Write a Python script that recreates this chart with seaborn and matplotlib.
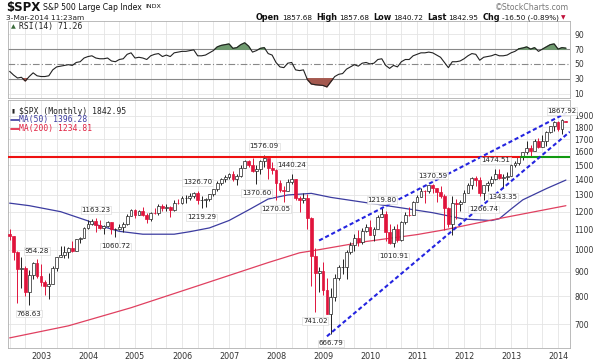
import numpy as np
import pandas as pd
import matplotlib
matplotlib.use("Agg")
import matplotlib.pyplot as plt
import seaborn as sns
from matplotlib.ticker import FixedLocator, NullLocator, FixedFormatter

sns.set_style("white")
plt.rcParams['font.family'] = ['DejaVu Sans']

# monthly bars, May 2002 .. Mar 2014
first_month = "2002-05"
opens = [1076.92, 1067.14, 989.82, 911.62, 916.07, 815.28, 885.76, 936.31,
         879.82, 855.70, 841.15, 848.18, 916.92, 963.59, 974.50, 990.31, 1008.01, 995.97, 1050.71, 1058.20,
         1111.92, 1131.13, 1144.94, 1126.21, 1107.30, 1120.68, 1140.84, 1101.72, 1104.24, 1114.58, 1130.20, 1173.82,
         1211.92, 1181.27, 1203.60, 1180.59, 1156.85, 1191.50, 1191.33, 1234.18, 1220.33, 1228.81, 1207.01, 1249.48,
         1248.29, 1280.08, 1280.66, 1294.87, 1310.61, 1270.09, 1270.20, 1276.66, 1303.82, 1335.85, 1377.94, 1400.63,
         1418.30, 1438.24, 1406.82, 1420.86, 1482.37, 1530.62, 1503.35, 1455.27, 1473.99, 1526.75, 1549.38, 1481.14,
         1468.36, 1378.55, 1330.63, 1322.70, 1385.59, 1400.38, 1280.00, 1267.38, 1282.83, 1166.36, 968.75, 896.24,
         903.25, 825.88, 735.09, 797.87, 872.81, 919.14, 919.32, 987.48, 1020.62, 1057.08, 1036.19, 1095.63,
         1115.10, 1073.87, 1104.49, 1169.43, 1186.69, 1089.41, 1030.71, 1101.60, 1049.33, 1141.20, 1183.26, 1180.55,
         1257.64, 1286.12, 1327.22, 1325.83, 1363.61, 1345.20, 1320.64, 1292.28, 1218.89, 1131.42, 1253.30, 1246.96,
         1257.60, 1312.41, 1365.68, 1408.47, 1397.91, 1310.33, 1362.16, 1379.32, 1406.58, 1440.67, 1412.16, 1416.18,
         1426.19, 1498.11, 1514.68, 1569.19, 1597.57, 1630.74, 1606.28, 1685.73, 1632.97, 1681.55, 1756.54, 1805.81,
         1848.36, 1782.59, 1857.68]
highs = [1106.59, 1070.00, 993.56, 965.00, 924.02, 907.44, 941.82, 954.28,
         935.05, 864.64, 895.90, 924.24, 965.38, 1015.33, 1015.41, 1011.01, 1040.29, 1053.79, 1063.65, 1112.56,
         1155.38, 1158.98, 1163.23, 1150.57, 1127.74, 1146.34, 1140.84, 1109.68, 1131.54, 1142.05, 1188.46, 1217.33,
         1217.80, 1212.44, 1229.11, 1191.88, 1199.56, 1219.59, 1245.15, 1245.86, 1243.13, 1233.34, 1270.64, 1275.80,
         1294.90, 1297.57, 1310.88, 1318.16, 1326.70, 1290.68, 1280.42, 1306.74, 1340.28, 1389.45, 1407.89, 1431.81,
         1441.61, 1461.57, 1438.89, 1498.02, 1535.56, 1540.56, 1555.90, 1503.89, 1538.74, 1576.09, 1545.79, 1523.57,
         1471.77, 1396.02, 1359.68, 1404.57, 1440.24, 1404.05, 1292.17, 1313.15, 1303.04, 1167.02, 1007.51, 918.85,
         943.85, 875.01, 832.98, 888.70, 930.17, 956.23, 996.68, 1039.47, 1080.15, 1101.36, 1111.10, 1130.38,
         1150.45, 1112.42, 1180.16, 1219.80, 1205.13, 1131.23, 1120.95, 1129.24, 1148.90, 1196.14, 1227.08, 1262.60,
         1302.67, 1344.07, 1332.28, 1366.61, 1370.58, 1345.20, 1356.48, 1307.38, 1229.29, 1292.66, 1277.55, 1269.37,
         1333.47, 1378.04, 1419.15, 1422.38, 1415.32, 1363.46, 1391.74, 1426.68, 1474.51, 1470.96, 1434.27, 1448.00,
         1509.94, 1530.94, 1570.28, 1597.57, 1687.18, 1654.19, 1698.78, 1709.67, 1729.86, 1765.67, 1813.55, 1849.44,
         1850.84, 1867.92, 1857.68]
lows = [1048.96, 952.92, 775.68, 833.44, 800.20, 768.63, 868.57, 872.79,
        840.34, 806.29, 788.90, 847.85, 902.83, 963.42, 962.10, 960.84, 990.36, 995.97, 1031.20, 1058.20,
        1105.08, 1124.44, 1087.16, 1105.72, 1076.32, 1113.32, 1078.78, 1060.72, 1101.29, 1090.19, 1127.60, 1173.76,
        1163.75, 1180.95, 1176.92, 1136.15, 1146.18, 1188.30, 1183.55, 1201.07, 1205.35, 1168.20, 1201.07, 1246.59,
        1245.74, 1253.61, 1268.42, 1280.74, 1245.34, 1219.29, 1224.54, 1261.30, 1290.93, 1327.10, 1360.98, 1385.93,
        1403.97, 1389.42, 1363.98, 1416.37, 1476.70, 1484.18, 1454.25, 1370.60, 1439.29, 1489.56, 1406.10, 1435.65,
        1270.05, 1316.75, 1256.98, 1324.35, 1373.07, 1272.00, 1200.44, 1248.48, 1106.39, 839.80, 741.02, 815.69,
        804.30, 734.52, 666.79, 783.32, 866.10, 888.86, 869.32, 978.51, 991.97, 1019.95, 1029.38, 1085.89,
        1071.59, 1044.50, 1101.60, 1170.69, 1040.78, 1028.33, 1010.91, 1039.70, 1041.25, 1131.87, 1173.00, 1180.55,
        1257.62, 1286.12, 1249.05, 1312.70, 1311.80, 1258.07, 1282.86, 1101.54, 1114.22, 1074.77, 1158.66, 1202.37,
        1257.60, 1312.41, 1340.03, 1357.38, 1291.98, 1266.74, 1325.41, 1354.65, 1396.56, 1403.28, 1343.35, 1398.11,
        1426.19, 1485.01, 1501.48, 1536.03, 1581.28, 1560.33, 1604.57, 1627.47, 1633.41, 1646.47, 1746.20, 1767.99,
        1770.45, 1737.92, 1840.72]
closes = [1067.14, 989.82, 911.62, 916.07, 815.28, 885.76, 936.31, 879.82,
          855.70, 841.15, 848.18, 916.92, 963.59, 974.50, 990.31, 1008.01, 995.97, 1050.71, 1058.20, 1111.92,
          1131.13, 1144.94, 1126.21, 1107.30, 1120.68, 1140.84, 1101.72, 1104.24, 1114.58, 1130.20, 1173.82, 1211.92,
          1181.27, 1203.60, 1180.59, 1156.85, 1191.50, 1191.33, 1234.18, 1220.33, 1228.81, 1207.01, 1249.48, 1248.29,
          1280.08, 1280.66, 1294.87, 1310.61, 1270.09, 1270.20, 1276.66, 1303.82, 1335.85, 1377.94, 1400.63, 1418.30,
          1438.24, 1406.82, 1420.86, 1482.37, 1530.62, 1503.35, 1455.27, 1473.99, 1526.75, 1549.38, 1481.14, 1468.36,
          1378.55, 1330.63, 1322.70, 1385.59, 1400.38, 1280.00, 1267.38, 1282.83, 1166.36, 968.75, 896.24, 903.25,
          825.88, 735.09, 797.87, 872.81, 919.14, 919.32, 987.48, 1020.62, 1057.08, 1036.19, 1095.63, 1115.10,
          1073.87, 1104.49, 1169.43, 1186.69, 1089.41, 1030.71, 1101.60, 1049.33, 1141.20, 1183.26, 1180.55, 1257.64,
          1286.12, 1327.22, 1325.83, 1363.61, 1345.20, 1320.64, 1292.28, 1218.89, 1131.42, 1253.30, 1246.96, 1257.60,
          1312.41, 1365.68, 1408.47, 1397.91, 1310.33, 1362.16, 1379.32, 1406.58, 1440.67, 1412.16, 1416.18, 1426.19,
          1498.11, 1514.68, 1569.19, 1597.57, 1630.74, 1606.28, 1685.73, 1632.97, 1681.55, 1756.54, 1805.81, 1848.36,
          1782.59, 1859.45, 1842.95]

# RSI(14), one value per month
rsi = [40, 35, 31, 32, 27, 33, 38, 34,
       33, 33, 34, 42, 46, 47, 48, 49, 48, 52, 53, 58,
       60, 61, 58, 57, 57, 58, 54, 53, 56, 57, 63, 65,
       58, 59, 58, 56, 61, 63, 64, 60, 62, 60, 65, 66,
       67, 67, 68, 69, 61, 61, 62, 65, 68, 73, 75, 76,
       77, 71, 72, 76, 78.5, 74, 66, 68, 71, 72, 64, 62,
       52, 46, 45, 51, 52, 42, 41, 42, 29, 23, 22, 21.5,
       21, 19, 26, 33, 36, 37, 43, 46, 49, 47, 51, 52,
       50, 51, 56, 57, 48, 44, 48, 46, 53, 56, 56, 61,
       63, 65, 65, 66, 65, 62, 59, 52, 45, 53, 53, 54,
       57, 61, 64, 63, 55, 59, 60, 61, 63, 61, 61, 62,
       65, 67, 70.5, 71.5, 73, 70, 72, 67, 70, 73, 76, 77,
       70, 72, 71.26]

# moving averages at a few months
ma50_dates = ["2002-05", "2002-10", "2003-06", "2004-01", "2004-03", "2004-09", "2005-03", "2005-11",
              "2006-03", "2006-08", "2007-01", "2007-06", "2007-11", "2008-04", "2008-10", "2009-03",
              "2009-12", "2010-09", "2011-05", "2012-01", "2012-08", "2012-10", "2013-01", "2013-04",
              "2013-10", "2014-03"]
ma50_vals = [1250, 1235, 1200, 1148, 1128, 1092, 1077, 1077,
             1090, 1110, 1150, 1210, 1275, 1300, 1310, 1285,
             1253, 1222, 1194, 1158, 1150, 1160, 1215, 1270,
             1340, 1396.28]
ma200_dates = ["2002-05", "2003-08", "2004-12", "2006-06", "2007-11", "2008-07", "2008-12",
               "2009-12", "2011-01", "2011-08", "2012-09", "2014-03"]
ma200_vals = [655, 694, 757, 846, 940, 985, 1000, 1040, 1075, 1100, 1157, 1234.81]

# annotated highs / lows
label_dates = ["2002-10", "2002-12", "2004-03", "2004-08", "2006-05", "2006-06", "2007-10", "2007-08",
               "2008-05", "2008-01", "2008-11", "2009-03", "2010-04", "2010-07", "2011-05", "2012-06",
               "2012-11", "2012-09", "2014-02"]
label_vals = [768.63, 954.28, 1163.23, 1060.72, 1326.70, 1219.29, 1576.09, 1370.60,
              1440.24, 1270.05, 741.02, 666.79, 1219.80, 1010.91, 1370.59, 1266.74,
              1343.35, 1474.51, 1867.92]
label_side = ["below", "above", "above", "below", "above", "below", "above", "below",
              "above", "below", "below", "below", "above", "below", "above", "below",
              "below", "above", "above"]

# trend channel + horizontal levels
lower_channel_dates = ["2009-02", "2014-04"]
lower_channel_vals = [660, 1760]
upper_channel_dates = ["2008-12", "2014-03"]
upper_channel_vals = [1045, 1925]
level = 1562
level_switch = "2013-03"

price_ticks = [700, 800, 900, 1000, 1100, 1200, 1300, 1400, 1500, 1600, 1700, 1800, 1900]
rsi_ticks = [10, 30, 50, 70, 90]
years = list(range(2003, 2015))


def midx(s):
    y, m = s.split("-")
    fy, fm = first_month.split("-")
    return (int(y) - int(fy)) * 12 + int(m) - int(fm)


x = np.arange(len(closes))
df = pd.DataFrame({"x": x, "o": opens, "h": highs, "l": lows, "c": closes, "rsi": rsi})

W, H = 600, 363
fig = plt.figure(figsize=(6, 3.63), dpi=100)


def fx(px):
    return px / W


def fy(py):
    return 1 - py / H


ax_rsi = fig.add_axes([fx(8), fy(98), fx(570) - fx(8), fy(21) - fy(98)])
ax = fig.add_axes([fx(8), fy(348), fx(570) - fx(8), fy(100) - fy(348)])

xmin, xmax = -0.42, 143.05
grid_c = "#e4e4e4"
frame_c = "#b0b0b0"
vgrid = [i for i in range(-4, 144, 4)]

for a in (ax, ax_rsi):
    a.set_facecolor("white")
    a.set_xlim(xmin, xmax)
    for s in a.spines.values():
        s.set_color(frame_c)
        s.set_linewidth(0.6)
    for v in vgrid:
        a.axvline(v, color=grid_c, lw=0.6, zorder=0)

# ---- RSI panel ----
ax_rsi.set_ylim(4, 108)
for v in (10, 90):
    ax_rsi.axhline(v, color=grid_c, lw=0.6, zorder=0)
ax_rsi.axhline(70, color="#888888", lw=0.8, zorder=1)
ax_rsi.axhline(30, color="#888888", lw=0.8, zorder=1)
ax_rsi.axhline(50, color="#888888", lw=0.8, ls=(0, (6, 2, 1, 2)), zorder=1)
r = np.array(rsi, dtype=float)
ax_rsi.fill_between(x, r, 70, where=r > 70, interpolate=True, color="#6e9a6e", zorder=2)
ax_rsi.fill_between(x, r, 30, where=r < 30, interpolate=True, color="#a4584e", zorder=2)
sns.lineplot(data=df, x="x", y="rsi", ax=ax_rsi, color="#222222", lw=0.8, zorder=3)
ax_rsi.set_xlabel("")
ax_rsi.set_ylabel("")
ax_rsi.set_xticks([])
ax_rsi.yaxis.tick_right()
ax_rsi.yaxis.set_major_locator(FixedLocator(rsi_ticks))
ax_rsi.tick_params(axis="y", length=0, pad=3, labelsize=5.5, labelcolor="#333333")
ax_rsi.text(0.006, 0.93, "▲", transform=ax_rsi.transAxes, fontsize=4.5, color="#3a6a3a",
            va="center", ha="left")
ax_rsi.text(0.02, 0.93, "RSI(14) 71.26", transform=ax_rsi.transAxes, fontsize=5.8,
            family="DejaVu Sans Mono", va="center", ha="left", color="#222222")

# ---- price panel ----
ax.set_yscale("log")
ax.set_ylim(624, 2050)
for v in price_ticks:
    ax.axhline(v, color=grid_c, lw=0.6, zorder=0)

up = df["c"] >= df["o"]
red = "#e0143c"
bw = 0.72
ax.vlines(df.loc[up, "x"], df.loc[up, "l"], df.loc[up, "h"], color="#222222", lw=0.7, zorder=3)
ax.vlines(df.loc[~up, "x"], df.loc[~up, "l"], df.loc[~up, "h"], color=red, lw=0.7, zorder=3)
ax.bar(df.loc[up, "x"], df.loc[up, "c"] - df.loc[up, "o"], bottom=df.loc[up, "o"], width=bw,
       facecolor="white", edgecolor="#222222", lw=0.5, zorder=4)
ax.bar(df.loc[~up, "x"], df.loc[~up, "o"] - df.loc[~up, "c"], bottom=df.loc[~up, "c"], width=bw,
       facecolor=red, edgecolor=red, lw=0.5, zorder=4)

ma50 = pd.DataFrame({"x": [midx(d) for d in ma50_dates], "v": ma50_vals})
ma200 = pd.DataFrame({"x": [midx(d) for d in ma200_dates], "v": ma200_vals})
sns.lineplot(data=ma50, x="x", y="v", ax=ax, color="#3c3ca0", lw=0.9, zorder=2)
sns.lineplot(data=ma200, x="x", y="v", ax=ax, color="#e04060", lw=0.9, zorder=2)

sw = midx(level_switch) + 0.5
ax.plot([xmin, sw], [level, level], color="#ee1111", lw=1.5, zorder=5)
ax.plot([sw, xmax], [level, level], color="#119911", lw=1.5, zorder=5)

for dts, vals in ((lower_channel_dates, lower_channel_vals), (upper_channel_dates, upper_channel_vals)):
    ax.plot([midx(d) for d in dts], vals, color="#2424e0", lw=1.5, ls=(0, (2, 1.3)), zorder=6)

for d, v, side in zip(label_dates, label_vals, label_side):
    off = 6 if side == "above" else -6.5
    ax.annotate(f"{v:.2f}", (midx(d), v), xytext=(0, off), textcoords="offset points",
                ha="center", va="center", fontsize=5, color="#222222", zorder=7,
                bbox=dict(boxstyle="square,pad=0.1", fc="white", ec="#d0d0d0", lw=0.4, alpha=0.9))

ax.set_xlabel("")
ax.set_ylabel("")
ax.yaxis.tick_right()
ax.yaxis.set_major_locator(FixedLocator(price_ticks))
ax.yaxis.set_major_formatter(FixedFormatter([str(t) for t in price_ticks]))
ax.yaxis.set_minor_locator(NullLocator())
ax.tick_params(axis="y", which="both", length=0, pad=3, labelsize=5.5, labelcolor="#333333")
ax.set_xticks([midx(f"{y}-01") for y in years])
ax.set_xticklabels([str(y) for y in years])
ax.tick_params(axis="x", length=0, pad=3, labelsize=5.8, labelcolor="#333333")

ax.text(0.007, 0.955, "▮", transform=ax.transAxes, fontsize=4, color="#222222", va="center")
ax.text(0.02, 0.955, "$SPX (Monthly) 1842.95", transform=ax.transAxes, fontsize=5.8,
        family="DejaVu Sans Mono", va="center", ha="left", color="#222222")
ax.plot([0.006, 0.019], [0.92, 0.92], transform=ax.transAxes, color="#3c3ca0", lw=1.2)
ax.text(0.019, 0.92, "MA(50) 1396.28", transform=ax.transAxes, fontsize=5.8,
        family="DejaVu Sans Mono", va="center", ha="left", color="#3c3ca0")
ax.plot([0.006, 0.019], [0.885, 0.885], transform=ax.transAxes, color="#e02040", lw=1.2)
ax.text(0.019, 0.885, "MA(200) 1234.81", transform=ax.transAxes, fontsize=5.8,
        family="DejaVu Sans Mono", va="center", ha="left", color="#e02040")

# ---- header ----
renderer = fig.canvas.get_renderer()


def chain(items, x0, y):
    # place texts one after another, measuring each
    xp = x0
    for t, kw, gap in items:
        kw = dict(kw)
        col = kw.pop("color", "#111111")
        tx = fig.text(fx(xp), fy(y), t, va="center", ha="left", color=col, **kw)
        xp = tx.get_window_extent(renderer).x1 + gap
    return xp


chain([("$SPX", dict(fontsize=8.5, weight="bold"), 3),
       ("S&P 500 Large Cap Index", dict(fontsize=5.6), 3),
       ("INDX", dict(fontsize=4.6), 0)], 6, 7)
fig.text(fx(6), fy(18), "3-Mar-2014 11:23am", fontsize=5.4, va="center", ha="left", color="#222222")
fig.text(fx(569), fy(7), "©StockCharts.com", fontsize=5.6, va="center", ha="right", color="#777777")

bold = dict(fontsize=5.9, weight="bold")
norm = dict(fontsize=5.2)
chain([("Open", bold, 2), ("1857.68", norm, 4), ("High", bold, 2), ("1857.68", norm, 4),
       ("Low", bold, 2), ("1840.72", norm, 4), ("Last", bold, 2), ("1842.95", norm, 4),
       ("Chg", bold, 2), ("-16.50 (-0.89%)", norm, 1.5),
       ("▼", dict(fontsize=4.2, color="#c0103a"), 0)], 256, 18)

fig.savefig("out.png", dpi=100)
